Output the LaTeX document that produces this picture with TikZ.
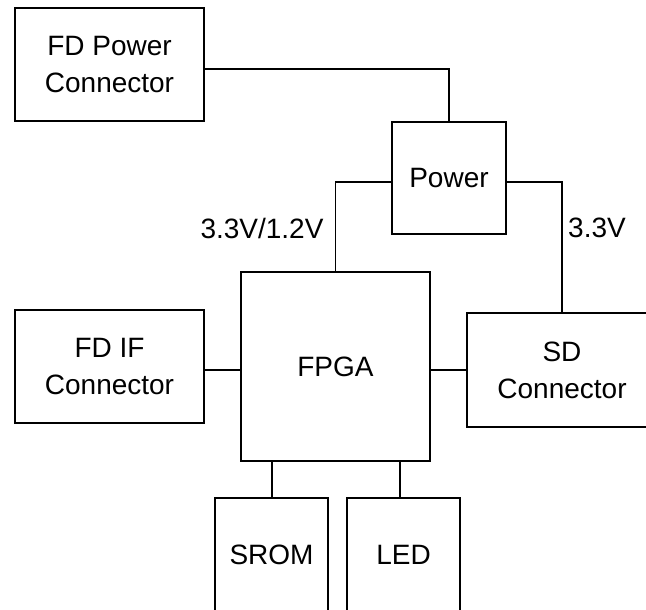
\documentclass[tikz,border=0pt]{standalone}
\usepackage{fontspec}
\setmainfont{Liberation Sans}
\usetikzlibrary{positioning}
\begin{document}
\begin{tikzpicture}[x=1pt,y=-1pt,
  bloco/.style={draw,line width=1.4pt,align=center,inner sep=0pt,
    font=\fontsize{28}{37}\selectfont},
  rotulo/.style={font=\fontsize{28}{37}\selectfont,inner sep=0pt},
  fio/.style={line width=1.4pt}]

% Area visivel
\useasboundingbox (0,0) rectangle (646,610);
\clip (0,0) rectangle (646,610);

% Blocos de cima
\node[bloco,minimum width=189pt,minimum height=113pt] (FDpow) at (109.5,64.5) {FD Power\\Connector};
\node[bloco,minimum width=114pt,minimum height=112pt] (Power) at (449,178) {Power};

% Blocos do meio
\node[bloco,minimum width=189pt,minimum height=189pt] (FPGA) at (335.5,366.5) {FPGA};
\node[bloco,minimum width=189pt,minimum height=113pt] (FDif) at (109.5,366.5) {FD IF\\Connector};
\node[bloco,minimum width=190pt,minimum height=114pt] (SD) at (562,370) {SD\\Connector};

% Blocos de baixo
\node[bloco,minimum width=113pt,minimum height=114pt] (SROM) at (271.5,555) {SROM};
\node[bloco,minimum width=113pt,minimum height=114pt] (LED) at (403.5,555) {LED};

% Alimentacao
\draw[fio] ([yshift=-4.5pt]FDpow.east) -| (Power.north);
\draw[fio] ([yshift=-4pt]Power.west) -| (FPGA.north);
\draw[fio] ([yshift=-4pt]Power.east) -| (SD.north);

% Tensoes
\node[rotulo] (V1) at (262,228) {3.3V/1.2V};
\node[rotulo] (V2) at (597,228) {3.3V};

% Ligacoes do FPGA
\draw[fio] ([yshift=-3.5pt]FDif.east) -- ([yshift=-3.5pt]FPGA.west);
\draw[fio] (SD.west) -- (SD.west -| FPGA.east);
\draw[fio] ([xshift=0.5pt]SROM.north) -- ([xshift=0.5pt]SROM.north |- FPGA.south);
\draw[fio] ([xshift=-3.5pt]LED.north) -- ([xshift=-3.5pt]LED.north |- FPGA.south);

\end{tikzpicture}
\end{document}
